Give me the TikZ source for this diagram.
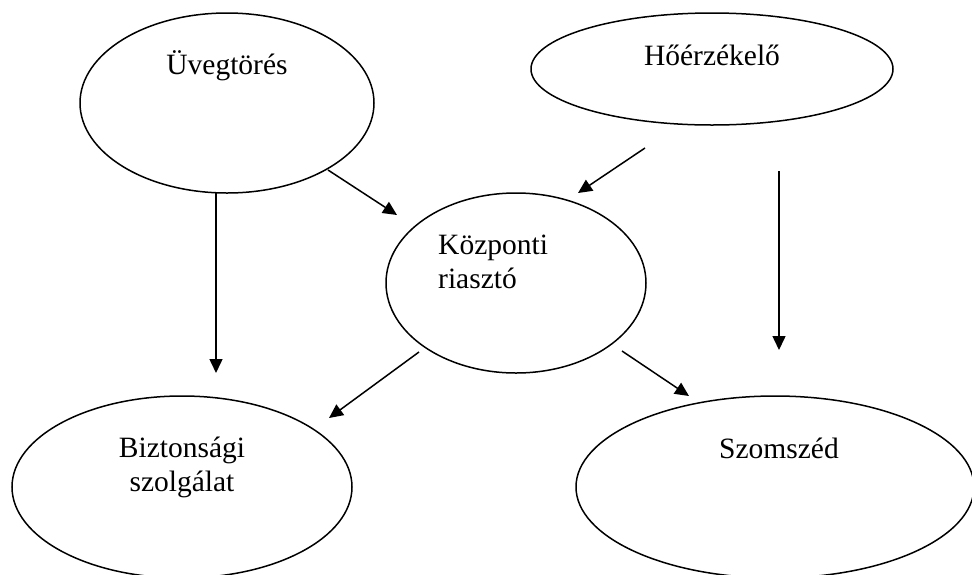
\documentclass[tikz,border=0pt]{standalone}
\usepackage{fontspec}
\setmainfont{Liberation Serif}
\usetikzlibrary{shapes.geometric,arrows.meta}
\begin{document}
\begin{tikzpicture}[x=1pt,y=-1pt,
  ell/.style={draw,ellipse,line width=1.5pt,inner sep=0pt},
  lbl/.style={inner sep=0pt,font=\fontsize{29.5}{34}\selectfont},
  arr/.style={line width=1.5pt,-{Triangle[length=14pt,width=13pt]}}]
\useasboundingbox (0,0) rectangle (972,574);
% ellipses
\node[ell,minimum width=294pt,minimum height=180pt] (uveg) at (227,103) {};
\node[ell,minimum width=362pt,minimum height=112pt] (ho) at (712,69) {};
\node[ell,minimum width=260pt,minimum height=180pt] (kozp) at (516,283) {};
\node[ell,minimum width=340pt,minimum height=182pt] (bizt) at (182,487) {};
\node[ell,minimum width=398pt,minimum height=182pt] (szom) at (775,487) {};
% texts
\node[lbl,anchor=base] (uvegt) at (227,74) {Üvegtörés};
\node[lbl,anchor=base] (hot) at (712,65) {Hőérzékelő};
\node[lbl,anchor=base west] (kozpt1) at (438,254) {Központi};
\node[lbl,anchor=base west] (kozpt2) at (438,288) {riasztó};
\node[lbl,anchor=base] (biztt1) at (182,457) {Biztonsági};
\node[lbl,anchor=base] (biztt2) at (182,491) {szolgálat};
\node[lbl,anchor=base] (szomt) at (779,458) {Szomszéd};
% arrow end points
\coordinate (a1s) at (328,170); \coordinate (a1e) at (397,215);
\coordinate (a2s) at (645,148); \coordinate (a2e) at (578,193);
\coordinate (a3s) at (216,193); \coordinate (a3e) at (216,373);
\coordinate (a4s) at (779,171); \coordinate (a4e) at (779,350);
\coordinate (a5s) at (419,352); \coordinate (a5e) at (329,418);
\coordinate (a6s) at (622,351); \coordinate (a6e) at (689,396);
\draw[arr] (a1s) -- (a1e);
\draw[arr] (a2s) -- (a2e);
\draw[arr] (a3s) -- (a3e);
\draw[arr] (a4s) -- (a4e);
\draw[arr] (a5s) -- (a5e);
\draw[arr] (a6s) -- (a6e);
\end{tikzpicture}
\end{document}
